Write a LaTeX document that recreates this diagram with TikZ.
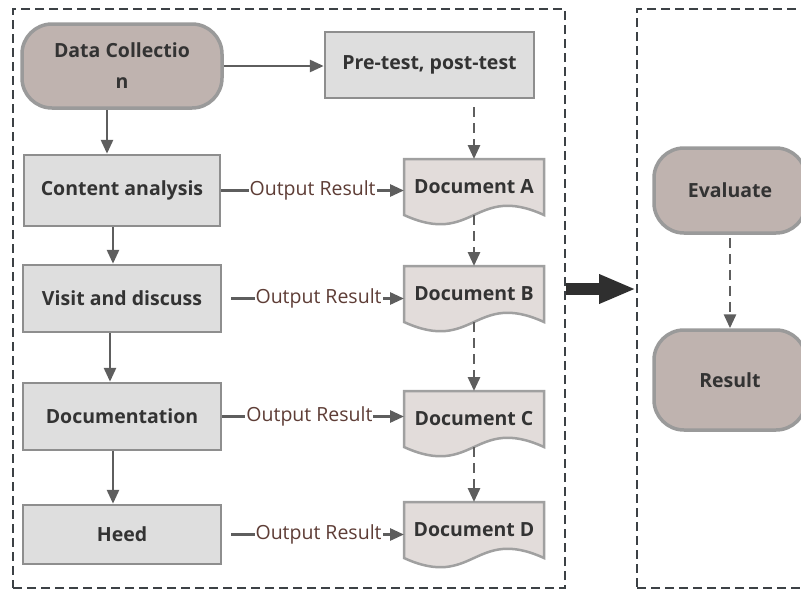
\documentclass[tikz,border=0pt]{standalone}
\usepackage{fontspec}
\setmainfont{Open Sans}
\usetikzlibrary{arrows.meta,calc,backgrounds}

\definecolor{boxfill}{HTML}{DEDEDE}
\definecolor{boxline}{HTML}{8E8E8E}
\definecolor{termfill}{HTML}{BFB3AF}
\definecolor{termline}{HTML}{9A9A9A}
\definecolor{docfill}{HTML}{E2DCDA}
\definecolor{docline}{HTML}{A0A0A0}
\definecolor{arrowgray}{HTML}{5E5E5E}
\definecolor{labelbrown}{HTML}{5E3D36}
\definecolor{framegray}{HTML}{3C4145}
\definecolor{inktext}{HTML}{333333}
\definecolor{bigarrow}{HTML}{2F2F2F}

\tikzset{
  txtbase/.style={font=\fontsize{19.5}{31}\selectfont\bfseries, text=inktext,
    align=center, inner sep=0pt},
  procbox/.style={txtbase, rectangle, fill=boxfill, draw=boxline, line width=2.5pt},
  termbox/.style={txtbase, rectangle, rounded corners=30pt, fill=termfill,
    draw=termline, line width=3.5pt},
  docnode/.style={txtbase, rectangle, minimum width=140pt, minimum height=56pt,
    outer sep=0pt},
  docshape/.style={fill=docfill, draw=docline, line width=2.5pt},
  flowarrow/.style={draw=arrowgray, line width=2.8pt,
    -{Triangle[length=14pt 0 0, width=12pt 0 0]}},
  dashflow/.style={flowarrow, dash pattern=on 10pt off 6pt},
  outlabel/.style={font=\fontsize{19.5}{24}\selectfont, text=labelbrown,
    fill=white, inner xsep=1pt, inner ysep=2pt},
  groupframe/.style={rectangle, draw=framegray, line width=2pt,
    dash pattern=on 9pt off 5pt, inner sep=0pt},
}

\begin{document}
\begin{tikzpicture}[x=1pt, y=-1pt]
\useasboundingbox (0,0) rectangle (801,590);
\clip (0,0) rectangle (801,590);

% the two dashed group frames
\node[groupframe, minimum width=552pt, minimum height=579pt] (leftgroup) at (289,298.5) {};
\node[groupframe, minimum width=203pt, minimum height=579pt] (rightgroup) at (738.5,298.5) {};

% left column: process steps
\node[termbox, minimum width=200pt, minimum height=84pt] (collect) at (122,66) {Data Collectio\\n};
\node[procbox, minimum width=196pt, minimum height=71pt] (content) at (122,190.5) {Content analysis};
\node[procbox, minimum width=198pt, minimum height=67pt] (visit) at (122,298.5) {Visit and discuss};
\node[procbox, minimum width=198pt, minimum height=67pt] (documentation) at (122,416.5) {Documentation};
\node[procbox, minimum width=198pt, minimum height=59pt] (heed) at (122,534.5) {Heed};

% right column: tests and documents
\node[procbox, minimum width=209pt, minimum height=66pt] (pretest) at (429.5,65) {Pre-test, post-test};
\node[docnode] (docA) at (474,187) {Document A};
\node[docnode] (docB) at (474,294) {Document B};
\node[docnode] (docC) at (474,419) {Document C};
\node[docnode] (docD) at (474,530) {Document D};

% evaluation group
\node[termbox, minimum width=152pt, minimum height=85pt] (evaluate) at (730,190.5) {Evaluate};
\node[termbox, minimum width=152pt, minimum height=100pt] (result) at (730,380) {Result};

% document outlines with a wavy lower edge
\begin{scope}[on background layer]
\foreach \d in {docA,docB,docC,docD}
  \draw[docshape] (\d.south west) -- (\d.north west) -- (\d.north east) -- (\d.south east)
    .. controls ($(\d.south)+(0,-32)$) and ($(\d.south)+(0,32)$) .. (\d.south west) -- cycle;
\end{scope}

% vertical arrows in the left column
\coordinate (xa) at (107,0);
\coordinate (xb) at (113,0);
\coordinate (xc) at (110,0);
\draw[flowarrow] (collect.south -| xa) -- (content.north -| xa);
\draw[flowarrow] (content.south -| xb) -- (visit.north -| xb);
\draw[flowarrow] (visit.south -| xc) -- (documentation.north -| xc);
\draw[flowarrow] (documentation.south -| xb) -- (heed.north -| xb);

% top arrow
\draw[flowarrow] (collect.east) -- (collect.east -| pretest.west);

% output arrows
\draw[flowarrow] (content.east) -- (content.east -| docA.west)
  node[outlabel, pos=0.5] {Output Result};
\draw[flowarrow, shorten <=9pt] (visit.east) -- (visit.east -| docB.west)
  node[outlabel, pos=0.53] {Output Result};
\draw[flowarrow] (documentation.east) -- (documentation.east -| docC.west)
  node[outlabel, pos=0.48] {Output Result};
\draw[flowarrow, shorten <=9pt] (heed.east) -- (heed.east -| docD.west)
  node[outlabel, pos=0.53] {Output Result};

% dashed chain through the documents
\draw[dashflow, shorten <=8pt] (pretest.south -| docA.north) -- (docA.north);
\draw[dashflow] (docA.south) -- (docB.north);
\draw[dashflow] (docB.south) -- (docC.north);
\draw[dashflow] (docC.south) -- (docD.north);

% evaluation chain
\draw[dashflow, shorten <=3pt] (evaluate.south) -- (result.north);

% thick arrow between the groups
\coordinate (bandy) at (600,289);
\draw[bigarrow, line width=12pt, -{Triangle[length=37pt 0 0, width=27pt 0 0]}]
  (leftgroup.east |- bandy) -- (rightgroup.west |- bandy);
\end{tikzpicture}
\end{document}
